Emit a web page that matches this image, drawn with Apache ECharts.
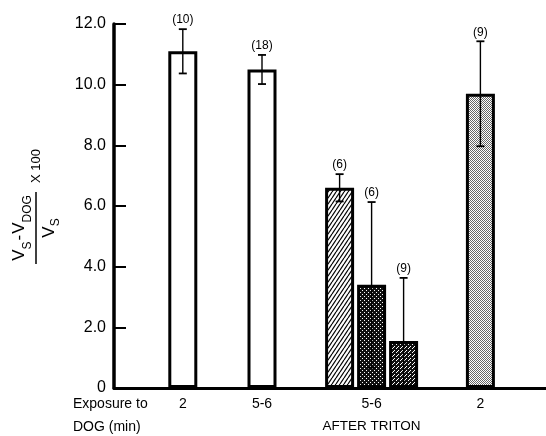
<!DOCTYPE html>
<html>
<head>
<meta charset="utf-8">
<script src="https://cdn.jsdelivr.net/npm/echarts@6/dist/echarts.min.js"></script>
<style>
  html, body { margin: 0; padding: 0; background: #fff; }
  #chart { width: 546px; height: 436px; }
</style>
</head>
<body>
<div id="chart"></div>
<script>
// values (x positions in axis units, 1 unit = 16px)
const barPositions = [4.3, 9.25, 14.1, 16.1, 18.1, 22.9];
const barValues = [11.1, 10.5, 6.6, 3.4, 1.55, 9.7];
const barErrors = [0.73, 0.48, 0.45, 2.73, 2.08, 1.73];
const sampleSizes = ['(10)', '(18)', '(6)', '(6)', '(9)', '(9)'];
const barFills = ['open', 'open', 'hatch', 'dark', 'dots', 'stipple'];
const xLabelPositions = [4.3, 9.25, 16.1, 22.9];
const xLabels = ['2', '5-6', '5-6', '2'];
const xSubLabels = ['', '', 'AFTER TRITON', ''];

const FONT = '"Liberation Sans", Arial, sans-serif';

function makePattern(kind) {
  const c = document.createElement('canvas');
  const ctx = c.getContext('2d');
  if (kind === 'hatch') {
    c.width = 4; c.height = 6;
    ctx.fillStyle = '#fff'; ctx.fillRect(0, 0, 4, 6);
    ctx.strokeStyle = '#000'; ctx.lineWidth = 1.2;
    [-4, 0, 4].forEach((x0) => {
      ctx.beginPath(); ctx.moveTo(x0, 6); ctx.lineTo(x0 + 4, 0); ctx.stroke();
    });
  } else if (kind === 'dark' || kind === 'dots') {
    c.width = 4; c.height = 4;
    ctx.fillStyle = '#111'; ctx.fillRect(0, 0, 4, 4);
    ctx.fillStyle = '#fff';
    ctx.fillRect(0, 0, 1, 1); ctx.fillRect(2, 2, 1, 1);
    if (kind === 'dots') ctx.fillRect(1, 3, 1, 1);
  } else if (kind === 'stipple') {
    c.width = 2; c.height = 2;
    ctx.fillStyle = '#fff'; ctx.fillRect(0, 0, 2, 2);
    ctx.fillStyle = '#666';
    ctx.fillRect(0, 0, 1, 1); ctx.fillRect(1, 1, 1, 1);
  } else {
    return '#fff';
  }
  return { image: c, repeat: 'repeat' };
}

// y-axis title: (V_S - V_DOG) / V_S  x 100, built in a rotated group
const measureCtx = document.createElement('canvas').getContext('2d');
function textWidth(t, size) {
  measureCtx.font = size + 'px ' + FONT;
  return measureCtx.measureText(t).width;
}
function run(pieces, centerY, subY) {
  const total = pieces.reduce((s, p) => s + textWidth(p.t, p.size) + (p.gap || 0), 0);
  let x = -total / 2;
  return pieces.map((p) => {
    const el = {
      type: 'text',
      style: {
        text: p.t, x: x + (p.gap || 0) / 2, y: p.sub ? subY : centerY,
        font: p.size + 'px ' + FONT, fill: '#000', textAlign: 'left', verticalAlign: 'middle',
      },
    };
    x += textWidth(p.t, p.size) + (p.gap || 0);
    return el;
  });
}
const numerator = run([
  { t: 'V', size: 17 }, { t: 'S', size: 12, sub: true },
  { t: '-', size: 17, gap: 2 }, { t: 'V', size: 17 }, { t: 'DOG', size: 12, sub: true },
], -17, -8.5);
const denominator = run([{ t: 'V', size: 17 }, { t: 'S', size: 12, sub: true }], 13, 19.5);

const chart = echarts.init(document.getElementById('chart'), null, { renderer: 'canvas' });

const option = {
  animation: false,
  backgroundColor: '#fff',
  grid: { left: 114, right: 0, top: 24, bottom: 48 },
  xAxis: {
    type: 'value', min: 0, max: 27,
    axisLine: { show: true, onZero: false, lineStyle: { color: '#000', width: 3 } },
    axisTick: { show: false }, axisLabel: { show: false }, splitLine: { show: false },
  },
  yAxis: {
    type: 'value', min: 0, max: 12, interval: 2,
    axisLine: { show: true, lineStyle: { color: '#000', width: 3.5 } },
    axisTick: { show: true, inside: true, length: 12, lineStyle: { color: '#000', width: 2 } },
    axisLabel: {
      color: '#000', fontSize: 16, fontFamily: FONT, margin: 8,
      formatter: (v) => (v === 0 ? '0' : v.toFixed(1)),
    },
    splitLine: { show: false },
  },
  series: [
    {
      type: 'bar',
      barWidth: 29,
      data: barPositions.map((x, i) => ({
        value: [x, barValues[i]],
        itemStyle: { color: makePattern(barFills[i]), borderColor: '#000', borderWidth: 3 },
      })),
      z: 2,
    },
    {
      type: 'custom',
      z: 5,
      data: barPositions.map((x, i) => [x, barValues[i], barErrors[i]]),
      renderItem: (params, api) => {
        const x = api.value(0), y = api.value(1), e = api.value(2);
        const low = Math.max(y - e, 0);
        const top = api.coord([x, y + e]);
        const bot = api.coord([x, low]);
        const cap = 4;
        const children = [
          { type: 'line', shape: { x1: top[0], y1: top[1], x2: bot[0], y2: bot[1] }, style: { stroke: '#000', lineWidth: 1.4 } },
          { type: 'line', shape: { x1: top[0] - cap, y1: top[1], x2: top[0] + cap, y2: top[1] }, style: { stroke: '#000', lineWidth: 1.8 } },
          {
            type: 'text',
            style: {
              text: sampleSizes[params.dataIndex], x: top[0], y: top[1] - 9,
              font: '12px ' + FONT, fill: '#000', textAlign: 'center', verticalAlign: 'middle',
            },
          },
        ];
        if (low > 0) {
          children.push({ type: 'line', shape: { x1: bot[0] - cap, y1: bot[1], x2: bot[0] + cap, y2: bot[1] }, style: { stroke: '#000', lineWidth: 1.8 } });
        }
        return { type: 'group', children };
      },
    },
    {
      type: 'custom',
      z: 5,
      data: xLabelPositions.map((x) => [x, 0]),
      renderItem: (params, api) => {
        const p = api.coord([api.value(0), 0]);
        const i = params.dataIndex;
        return {
          type: 'group',
          children: [
            {
              type: 'text',
              style: { text: xLabels[i], x: p[0], y: p[1] + 16, font: '14px ' + FONT, fill: '#000', textAlign: 'center', verticalAlign: 'middle' },
            },
            {
              type: 'text',
              style: { text: xSubLabels[i], x: p[0], y: p[1] + 38, font: '13.5px ' + FONT, fill: '#000', textAlign: 'center', verticalAlign: 'middle' },
            },
          ],
        };
      },
    },
  ],
  graphic: [
    { type: 'text', x: 73, y: 404, style: { text: 'Exposure to', font: '14px ' + FONT, fill: '#000', verticalAlign: 'middle' } },
    { type: 'text', x: 73, y: 427, style: { text: 'DOG (min)', font: '14px ' + FONT, fill: '#000', verticalAlign: 'middle' } },
    {
      type: 'group',
      x: 36, y: 228,
      rotation: Math.PI / 2,
      children: [
        ...numerator,
        { type: 'line', shape: { x1: -36, y1: 0, x2: 36, y2: 0 }, style: { stroke: '#000', lineWidth: 1.5 } },
        ...denominator,
        { type: 'text', style: { text: 'X 100', x: 45, y: 0, font: '13px ' + FONT, fill: '#000', textAlign: 'left', verticalAlign: 'middle' } },
      ],
    },
  ],
};

chart.setOption(option);
</script>
</body>
</html>
